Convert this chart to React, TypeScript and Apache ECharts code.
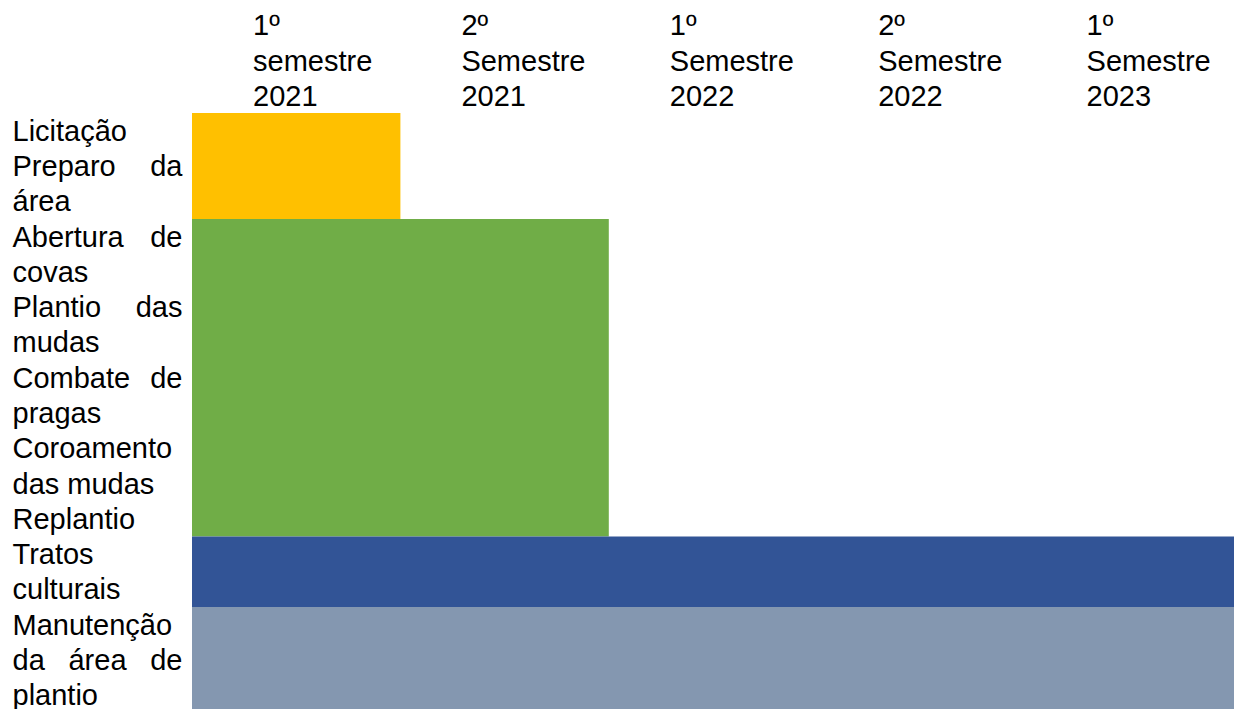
import React, { useEffect, useRef } from 'react';
import * as echarts from 'echarts';

// Column headers (semesters)
const semesterLabels: string[] = [
  '1º\nsemestre\n2021',
  '2º\nSemestre\n2021',
  '1º\nSemestre\n2022',
  '2º\nSemestre\n2022',
  '1º\nSemestre\n2023',
];

// Activity labels, as wrapped in the table cells
const taskLines: string[][] = [
  ['Licitação'],
  ['Preparo da', 'área'],
  ['Abertura de', 'covas'],
  ['Plantio das', 'mudas'],
  ['Combate de', 'pragas'],
  ['Coroamento', 'das mudas'],
  ['Replantio'],
  ['Tratos', 'culturais'],
  ['Manutenção', 'da área de', 'plantio'],
];

// Phases (coloured blocks): which tasks they span and which semesters
const phaseFirstTask = [0, 2, 7, 8];
const phaseLastTask = [1, 6, 7, 8];
const phaseStartSemester = [0, 0, 0, 0];
const phaseEndSemester = [1, 2, 5, 5];

const phaseColors = ['#FFC000', '#70AD47', '#325496', '#8497B0'];

const FONT_FAMILY = '"Liberation Sans", Arial, sans-serif';
const FONT_SIZE = 29;
const FONT = `${FONT_SIZE}px ${FONT_FAMILY}`;
const LABEL_LEFT = 12.5;
const LABEL_RIGHT = 182.5;

let measureCtx: CanvasRenderingContext2D | null = null;
function textWidth(t: string): number {
  if (!measureCtx) {
    const c = document.createElement('canvas');
    measureCtx = c.getContext('2d');
  }
  if (!measureCtx) return t.length * FONT_SIZE * 0.5;
  measureCtx.font = FONT;
  return measureCtx.measureText(t).width;
}

export default function App() {
  const ref = useRef<HTMLDivElement>(null);

  useEffect(() => {
    if (!ref.current) return;
    const chart = echarts.init(ref.current, null, { renderer: 'svg' });

    // cumulative line starts for each task row
    const rowStart: number[] = [];
    let acc = 0;
    taskLines.forEach((l) => {
      rowStart.push(acc);
      acc += l.length;
    });
    const totalLines = acc;

    const phaseData = phaseFirstTask.map((f, i) => [
      phaseStartSemester[i],
      phaseEndSemester[i],
      rowStart[f],
      rowStart[phaseLastTask[i]] + taskLines[phaseLastTask[i]].length,
    ]);

    const labelData = taskLines.map((_, i) => [i, rowStart[i]]);
    const headerData = semesterLabels.map((_, i) => [i, 0]);

    const option: any = {
      animation: false,
      backgroundColor: '#ffffff',
      grid: { left: 192, right: 4, top: 113, bottom: 0 },
      xAxis: {
        type: 'value',
        min: 0,
        max: semesterLabels.length,
        show: false,
      },
      yAxis: {
        type: 'value',
        min: 0,
        max: totalLines,
        inverse: true,
        show: false,
      },
      series: [
        {
          type: 'custom',
          clip: false,
          silent: true,
          data: phaseData,
          renderItem: (params: any, api: any) => {
            const i = params.dataIndex;
            const p0 = api.coord([api.value(0), api.value(2)]);
            const p1 = api.coord([api.value(1), api.value(3)]);
            return {
              type: 'rect',
              shape: {
                x: p0[0],
                y: p0[1],
                width: p1[0] - p0[0],
                height: p1[1] - p0[1],
              },
              style: { fill: phaseColors[i] },
            };
          },
        },
        {
          type: 'custom',
          clip: false,
          silent: true,
          data: labelData,
          renderItem: (params: any, api: any) => {
            const idx = api.value(0);
            const start = api.value(1);
            const lines = taskLines[idx];
            const children: any[] = [];
            lines.forEach((line, j) => {
              const y = api.coord([0, start + j + 0.5])[1];
              const words = line.split(' ');
              const isLast = j === lines.length - 1;
              if (!isLast && words.length > 1) {
                const widths = words.map(textWidth);
                const total = widths.reduce((a, b) => a + b, 0);
                const gap = (LABEL_RIGHT - LABEL_LEFT - total) / (words.length - 1);
                let x = LABEL_LEFT;
                words.forEach((w, k) => {
                  children.push({
                    type: 'text',
                    style: {
                      text: w,
                      x,
                      y,
                      font: FONT,
                      fill: '#000',
                      align: 'left',
                      verticalAlign: 'middle',
                      textAlign: 'left',
                      textVerticalAlign: 'middle',
                    },
                  });
                  x += widths[k] + gap;
                });
              } else {
                children.push({
                  type: 'text',
                  style: {
                    text: line,
                    x: LABEL_LEFT,
                    y,
                    font: FONT,
                    fill: '#000',
                    align: 'left',
                    verticalAlign: 'middle',
                    textAlign: 'left',
                    textVerticalAlign: 'middle',
                  },
                });
              }
            });
            return { type: 'group', children };
          },
        },
        {
          type: 'custom',
          clip: false,
          silent: true,
          data: headerData,
          renderItem: (params: any, api: any) => {
            const idx = api.value(0);
            const x = api.coord([idx, 0])[0] + 61;
            const lines = semesterLabels[idx].split('\n');
            return {
              type: 'group',
              children: lines.map((t, j) => ({
                type: 'text',
                style: {
                  text: t,
                  x,
                  y: 25 + j * 35.5,
                  font: FONT,
                  fill: '#000',
                  align: 'left',
                  verticalAlign: 'middle',
                  textAlign: 'left',
                  textVerticalAlign: 'middle',
                },
              })),
            };
          },
        },
      ],
    };

    chart.setOption(option);
    return () => {
      chart.dispose();
    };
  }, []);

  // The table continues slightly below the visible window (the last row is cut off)
  return (
    <div
      ref={ref}
      style={{ position: 'fixed', left: 0, top: 0, width: 1238, height: 713, background: '#fff' }}
    />
  );
}
